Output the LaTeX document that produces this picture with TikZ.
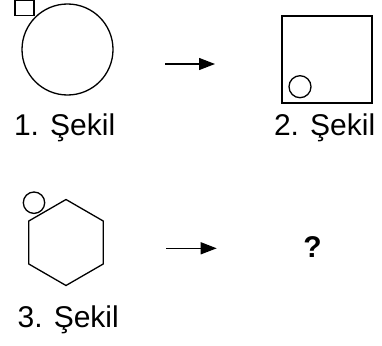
\documentclass[tikz,border=0pt]{standalone}
\usepackage{fontspec}
\setmainfont{Liberation Sans}
\usetikzlibrary{arrows.meta}
\begin{document}
\begin{tikzpicture}[x=1pt, y=-1pt, line width=1.3pt,
    shapelbl/.style={anchor=base west, inner sep=0pt, font=\fontsize{30}{33}\selectfont},
    maparrow/.style={-{Triangle[length=16pt, width=12pt]}}]
    \clip (0,0) rectangle (382,345);

    \begin{scope}
        \draw (15, 0.7) rectangle (34, 15.5);
        \draw (67.5, 49.5) circle (45.5);
        \node[shapelbl] (sekil1) at (13.4, 135.3) {1. Şekil};
    \end{scope}

    \coordinate (arrowAstart) at (165, 64);
    \coordinate (arrowAend) at (215, 64);
    \draw[maparrow] (arrowAstart) -- (arrowAend);

    \begin{scope}
        \draw (282, 16) rectangle (372, 103);
        \draw (300, 86.7) circle (11);
        \node[shapelbl] (sekil2) at (273.4, 135.3) {2. Şekil};
    \end{scope}

    \begin{scope}
        \draw (66, 199.5) -- (103.2, 221) -- (103.2, 264) -- (66, 285.5)
            -- (28.8, 264) -- (28.8, 221) -- cycle;
        \draw (34, 202.7) circle (10.7);
        \node[shapelbl] (sekil3) at (17, 327) {3. Şekil};
    \end{scope}

    \coordinate (arrowBstart) at (166, 248.3);
    \coordinate (arrowBend) at (216.7, 248.3);
    \draw[maparrow] (arrowBstart) -- (arrowBend);

    \node[font=\fontsize{30}{33}\selectfont\bfseries, inner sep=0pt] (question) at (312.5, 247) {?};
\end{tikzpicture}
\end{document}
